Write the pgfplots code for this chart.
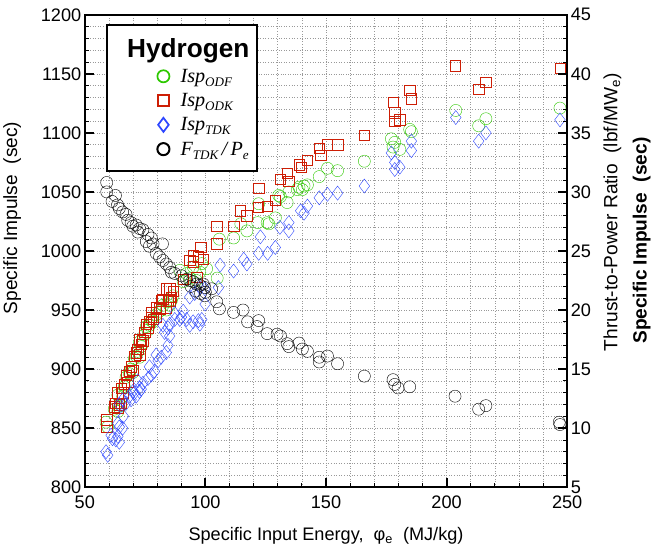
\documentclass[border=0pt]{standalone}
\usepackage{pgfplots}
\pgfplotsset{compat=1.18}
\usepackage{fontspec}
\setmainfont{Liberation Sans}
\newfontfamily\serif{Liberation Serif}
\definecolor{odf}{RGB}{45,200,0}
\definecolor{odk}{RGB}{205,30,5}
\definecolor{tdk}{RGB}{45,70,255}
\newcommand{\sub}[1]{\raisebox{-0.45ex}{\fontsize{13}{13}\selectfont #1}}

\begin{document}
\begin{tikzpicture}
\pgfplotsset{
  base/.style={
    width=479pt, height=469pt, scale only axis,
    xmin=50, xmax=250,
    font=\fontsize{18}{20}\selectfont,
    /pgf/number format/assume math mode=true,
    /pgf/number format/1000 sep={},
    tick align=inside,
    major tick length=9pt, minor tick length=4pt,
    every major tick/.append style={black, line width=2pt},
    every minor tick/.append style={black, line width=0.8pt},
    axis line style={line width=2.4pt},
    clip mode=individual,
  },
  legimg/.style={legend image code/.code={
    \path (-40pt,0pt) (6pt,0pt);
    \draw[##1] plot coordinates {(0pt,0pt)};}},
}
\begin{axis}[base,
  ymin=800, ymax=1200,
  xtick={50,100,...,250}, ytick={800,850,...,1200},
  minor x tick num=4, minor y tick num=4,
  grid=both,
  grid style={dotted, gray!80, line width=0.6pt},
  minor grid style={dotted, gray!80, line width=0.6pt},
  ytick pos=left, xtick pos=bottom,
  xticklabel style={yshift=-5pt},
  xlabel={Specific Input Energy,\ \ φ\textsubscript{e}\ \ (MJ/kg)},
  xlabel style={yshift=-12pt},
  every mark/.append style={line width=1.7pt},
]
% Isp ODF
\addplot[only marks, mark=o, mark size=6pt, odf] coordinates {
(58.8,855) (59.5,851) (62.2,866) (63.7,864) (65.0,869) (64.3,867) (63.7,878) (65.7,877)
(66.4,885) (67.8,887) (67.1,893) (68.5,896) (69.9,897) (69.2,900) (70.6,909) (72.7,910)
(71.3,911) (72.0,915) (73.4,919) (74.1,922) (72.7,923) (74.8,929) (76.2,933) (76.8,937)
(75.5,936) (77.6,941) (78.3,940) (79.6,946) (81.0,949) (83.8,950) (82.4,954) (85.2,954)
(84.5,957) (85.9,958) (86.6,962) (89.4,983.6) (92.2,980.8) (95.0,986.5) (98.5,989.3)
(100.5,985) (90.8,974) (93.5,977) (96.3,975) (97.7,982)
(104.9,977) (105.8,1010) (111.7,1011) (117.2,1017) (114.7,1023) (121.7,1024) (126.3,1023)
(122.1,1040) (125.6,1024) (129.0,1028) (130.4,1047) (131.1,1046) (133.9,1041) (134.6,1050)
(138.1,1052) (138.8,1054) (140.2,1052) (140.9,1055) (142.3,1056) (147.2,1063) (150.6,1070)
(154.8,1068) (165.9,1076) (177.1,1095) (177.8,1088) (180.6,1086) (178.5,1092) (184.7,1103)
(185.4,1101) (203.8,1119) (213.3,1106) (216.3,1112) (247,1121)
};
% Isp ODK
\addplot[only marks, mark=square, mark size=5.2pt, odk] coordinates {
(59.1,857) (59.1,851) (62.2,868) (63.7,867) (64.3,870) (65.0,871) (62.9,871) (63.7,880)
(65.7,880) (65.0,884) (66.4,887) (67.8,889) (67.1,895) (68.5,898) (69.9,899) (69.2,902)
(70.6,911) (72.7,912) (71.3,914) (72.0,917) (73.4,921) (74.1,924) (72.7,925) (74.8,931)
(76.2,935) (76.8,940) (75.5,938) (77.6,944) (78.3,942) (79.6,944) (79.6,952) (81.0,951)
(77.6,948) (83.8,952) (84.5,958) (85.9,961) (81.7,958) (85.2,958) (82.4,959) (85.2,968)
(86.6,966) (83.8,968) (90.8,976) (96.3,978) (95.0,991) (95.0,996) (98.1,1003) (97.1,995)
(99.2,993) (93.5,992) (104.7,1021) (104.7,1006) (111.7,1021) (114.4,1034) (117.2,1030)
(122.1,1053) (121.8,1037) (125.6,1038) (129.0,1043) (131.1,1061) (133.9,1066) (134.6,1059)
(138.8,1073) (139.8,1071) (142.3,1077) (147.2,1087) (147.9,1081) (150.6,1090) (154.8,1090)
(165.9,1098) (177.8,1126) (178.5,1117) (178.5,1110) (180.6,1111) (184.7,1136) (185.4,1129)
(203.5,1157) (213.3,1137) (216.3,1143) (247,1155)
};
% Isp TDK
\addplot[only marks, mark=diamond, mark size=7pt, tdk] coordinates {
(58.8,830) (59.5,827) (61.5,841) (63.7,843) (62.9,840) (64.3,838) (60.9,844) (63.7,854)
(66.0,860) (65.7,850) (64.3,851) (67.1,871) (69.2,874) (71.3,877) (72.7,881) (73.4,883)
(70.6,880) (64.3,870) (65.7,874) (68.5,877) (69.9,881) (72.7,884) (74.1,888) (76.2,892)
(77.6,895) (78.9,898) (80.4,907) (81.7,910) (83.8,914) (84.5,920) (79.6,912) (76.8,902)
(72.0,890) (82.4,937) (83.1,931) (85.2,928) (84.5,935) (85.2,938) (87.3,942) (87.3,947)
(89.4,942) (90.8,949) (90.1,944) (92.2,942) (93.5,937) (94.9,940) (97.1,941) (97.7,938)
(98.5,942) (93.5,961) (95.6,964) (97.7,969) (99.8,968) (99.9,955) (106.1,988) (105.4,969)
(111.7,983) (115.9,993) (117.2,989) (122.8,1012) (122.1,998) (125.8,998) (129.0,1003)
(130.9,1020) (134.6,1024) (134.6,1017) (139.5,1034) (140.9,1032) (142.3,1038) (147.2,1045)
(150.6,1048) (154.8,1049) (165.9,1055) (177.1,1083) (178.5,1075) (178.5,1069) (180.6,1071)
(185.4,1093) (185.4,1085) (203.8,1113) (213.3,1093) (216.3,1100) (247,1111)
};
\node[rotate=90, font=\fontsize{19}{22}\selectfont] at ([xshift=-72pt]rel axis cs:0,0.57)
  {Specific Impulse\ \ (sec)};
\end{axis}

\begin{axis}[base,
  ymin=5, ymax=45,
  ytick={5,10,...,45}, minor y tick num=4,
  axis y line*=right, hide x axis,
  every mark/.append style={line width=1.7pt},
  legend style={at={(rel axis cs:0.044,0.981)}, anchor=north west,
    draw=black, line width=2pt, fill=white,
    inner xsep=15pt, inner ysep=12pt,
    font=\serif\itshape\fontsize{20}{23}\selectfont,
    row sep=5.5pt},
  legend cell align=left,
]
\addlegendimage{empty legend}
\addlegendentry{\hspace*{-45pt}\makebox[100pt][l]{\normalfont\bfseries\fontsize{26}{32}\selectfont Hydrogen}}
\addlegendimage{legimg, only marks, mark=o, mark size=6pt, odf, line width=1.7pt}
\addlegendentry{\hspace*{8pt}Isp\sub{ODF}}
\addlegendimage{legimg, only marks, mark=square, mark size=5.2pt, odk, line width=1.7pt}
\addlegendentry{\hspace*{8pt}Isp\sub{ODK}}
\addlegendimage{legimg, only marks, mark=diamond, mark size=7pt, tdk, line width=1.7pt}
\addlegendentry{\hspace*{8pt}Isp\sub{TDK}}
% F TDK / Pe
\addplot[legimg, only marks, mark=o, mark size=6pt, black] coordinates {
(59.1,30.8) (59.1,30.0) (62.7,29.7) (61.3,29.2) (63.6,28.9) (64.3,28.6) (65.7,28.3) (67.1,28.1)
(67.8,27.6) (69.2,27.4) (69.9,27.1) (71.3,27.2) (72.7,26.9) (72.0,26.6) (74.1,26.8) (76.2,26.4)
(77.6,26.1) (75.5,25.8) (78.3,25.6) (76.8,25.4) (82.2,25.6) (79.6,24.8) (81.0,24.5) (82.4,24.2)
(83.8,23.9) (85.2,23.6) (85.9,23.2) (87.3,23.1) (90.1,22.9) (92.2,22.6) (93.5,22.5) (95.0,22.4)
(96.3,22.2) (97.7,22.1) (99.1,22.2) (99.8,21.9) (102.6,21.8) (99.8,21.2) (94.0,22.0) (96.0,21.6)
(98.0,21.4) (100.0,21.5) (104.7,20.7) (105.8,20.1) (111.7,19.8) (115.6,20.0) (117.5,19.0)
(122.1,19.1) (121.4,18.6) (125.6,18.0) (129.7,17.95) (131.1,17.8) (133.9,17.15) (134.6,16.9)
(138.8,17.2) (140.2,16.7) (142.3,16.5) (147.2,16.0) (147.2,15.6) (150.6,16.1) (154.8,15.45)
(165.9,14.4) (177.8,14.1) (178.5,13.7) (179.9,13.4) (184.7,13.5) (203.5,12.7) (213.3,11.6)
(216.3,11.9) (246.7,10.5) (247,10.3)
};
\addlegendentry{\hspace*{8pt}\makebox[59pt][l]{F\sub{TDK}\,/\,P\sub{e}}}
\node[rotate=90, font=\fontsize{19}{22}\selectfont] at ([xshift=45pt]rel axis cs:1,0.582)
  {Thrust-to-Power Ratio\ \ (lbf/MW\textsubscript{e})};
\node[rotate=90, font=\bfseries\fontsize{19}{22}\selectfont] at ([xshift=74pt]rel axis cs:1,0.522)
  {Specific Impulse\ \ (sec)};
\end{axis}
\path ([yshift=5pt]current bounding box.north);
\end{tikzpicture}
\end{document}
